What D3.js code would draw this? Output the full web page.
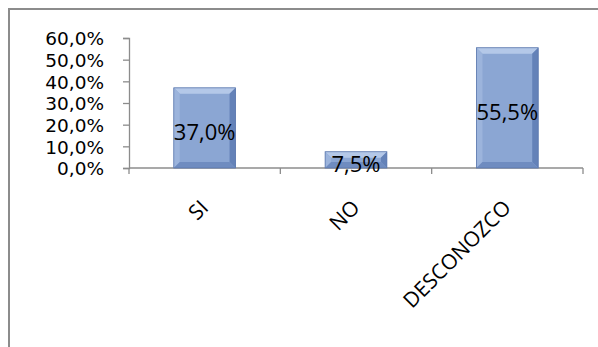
<!DOCTYPE html>
<html>
<head>
<meta charset="utf-8">
<script src="https://cdn.jsdelivr.net/npm/d3@7"></script>
<style>
  html, body { margin: 0; padding: 0; background: #fff; }
  svg { display: block; }
  text { font-family: "Open Sans", "Liberation Sans", sans-serif; fill: #000; }
</style>
</head>
<body>
<svg id="chart" width="598" height="347"></svg>
<script>
// Survey answers and their shares (percent)
const categories = ["SI", "NO", "DESCONOZCO"];
const values = [37.0, 7.5, 55.5];
const yTicks = [0, 10, 20, 30, 40, 50, 60];

const fmt = v => v.toFixed(1).replace(".", ",") + "%";

const svg = d3.select("#chart");
const W = 598, H = 347;
const plot = { left: 129, right: 583, top: 38, bottom: 168 };

// Chart frame (extends past the window on the right and bottom)
svg.append("rect")
  .attr("x", 9).attr("y", 9)
  .attr("width", W + 20).attr("height", H + 20)
  .attr("fill", "none").attr("stroke", "#8c8c8c").attr("stroke-width", 2);

const x = d3.scaleBand().domain(categories).range([plot.left, plot.right]).padding(0);
const y = d3.scaleLinear().domain([0, 60]).range([plot.bottom, plot.top]);

// Y axis
const yAxis = d3.axisLeft(y).tickValues(yTicks).tickFormat(d => fmt(d)).tickSize(6).tickPadding(19);
const gy = svg.append("g").attr("transform", `translate(${plot.left},0)`).call(yAxis);
gy.select(".domain").attr("stroke", "#8c8c8c").attr("stroke-width", 1.3);
gy.selectAll(".tick line").attr("stroke", "#8c8c8c").attr("stroke-width", 1.3);
gy.selectAll(".tick text").style("font-size", "18.5px").attr("dy", "0.36em")
  .style("font-family", "'DejaVu Sans', sans-serif");

// X axis: tick marks at band boundaries
svg.append("line")
  .attr("x1", plot.left).attr("x2", plot.right)
  .attr("y1", plot.bottom).attr("y2", plot.bottom)
  .attr("stroke", "#8c8c8c").attr("stroke-width", 1.3);
const bounds = categories.map(c => x(c)).concat([x(categories[categories.length - 1]) + x.bandwidth()]);
svg.selectAll(".xtick").data(bounds).enter().append("line")
  .attr("class", "xtick")
  .attr("x1", d => d).attr("x2", d => d)
  .attr("y1", plot.bottom).attr("y2", plot.bottom + 6)
  .attr("stroke", "#8c8c8c").attr("stroke-width", 1.3);

// Bars with a bevelled look
const barW = x.bandwidth() / 2.45;
const bev = 6;
const bars = svg.selectAll(".bar").data(categories.map((c, i) => ({ c, v: values[i] })))
  .enter().append("g").attr("class", "bar");

bars.each(function(d) {
  const g = d3.select(this);
  const x0 = x(d.c) + (x.bandwidth() - barW) / 2, x1 = x0 + barW;
  const y0 = y(d.v), y1 = y(0);
  const b = Math.min(bev, (y1 - y0) / 2);
  g.append("rect").attr("x", x0).attr("y", y0).attr("width", barW).attr("height", y1 - y0)
    .attr("fill", "#8ba6d3");
  const poly = (pts, fill) => g.append("polygon").attr("points", pts.map(p => p.join(",")).join(" ")).attr("fill", fill);
  poly([[x0, y0], [x1, y0], [x1 - b, y0 + b], [x0 + b, y0 + b]], "#b4c8e8");
  poly([[x0, y0], [x0 + b, y0 + b], [x0 + b, y1 - b], [x0, y1]], "#9cb4dc");
  poly([[x1, y0], [x1, y1], [x1 - b, y1 - b], [x1 - b, y0 + b]], "#6482b8");
  poly([[x0, y1], [x0 + b, y1 - b], [x1 - b, y1 - b], [x1, y1]], "#6f8cc0");
  g.append("rect").attr("x", x0).attr("y", y0).attr("width", barW).attr("height", y1 - y0)
    .attr("fill", "none").attr("stroke", "#5a77ad").attr("stroke-width", 0.8);
  // value label, centred in the bar
  g.append("text")
    .attr("x", (x0 + x1) / 2).attr("y", (y0 + y1) / 2 + 3)
    .attr("text-anchor", "middle").attr("dominant-baseline", "central")
    .style("font-size", "22px")
    .text(fmt(d.v));
});

// Category labels rotated 45 degrees
svg.selectAll(".xlabel").data(categories).enter().append("text")
  .attr("class", "xlabel")
  .attr("text-anchor", "end")
  .style("font-size", "21px")
  .attr("transform", d => `translate(${x(d) + x.bandwidth() / 2 + 5},${plot.bottom + 41}) rotate(-45)`)
  .text(d => d);
</script>
</body>
</html>
